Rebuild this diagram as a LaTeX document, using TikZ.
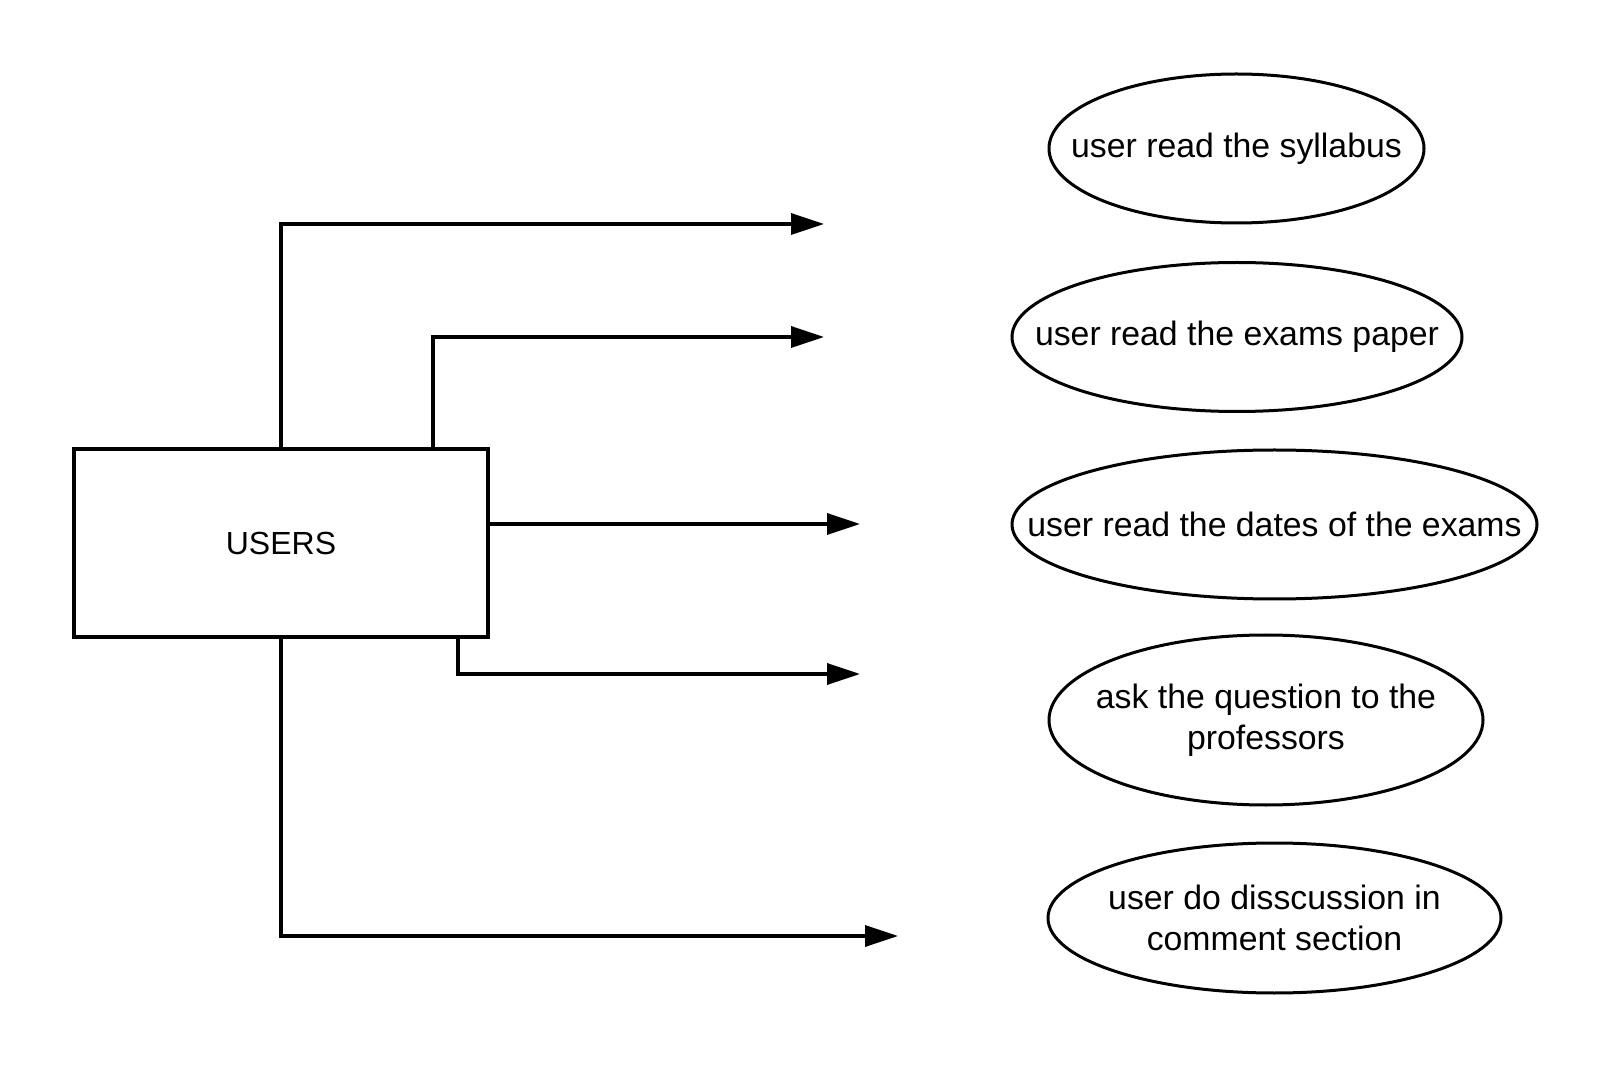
\documentclass[tikz,border=0pt]{standalone}
\usepackage{fontspec}
\setmainfont{Liberation Sans}
\usetikzlibrary{arrows.meta,calc,shapes.geometric}

\begin{document}
\begin{tikzpicture}[x=0.5pt, y=-0.5pt,
  >={Triangle[length=16.5pt, width=10.5pt]},
  flow/.style={->, line width=1.75pt},
  usecase/.style={draw, ellipse, line width=1.5pt, inner sep=0pt},
  uctext/.style={align=center, font=\fontsize{16.9}{20.5}\selectfont}]

  \useasboundingbox (0,0) rectangle (1613,1069);

  % Actor box
  \node[draw, line width=2pt, minimum width=207pt, minimum height=94pt,
        font=\fontsize{16}{19}\selectfont] (users) at (281,543) {USERS};

  % Use cases (ellipses with the text placed inside)
  \node[usecase, minimum width=187.5pt, minimum height=74.5pt,
        label={[uctext]center:user read the syllabus}] (syllabus) at (1236.5,148.5) {};
  \node[usecase, minimum width=225pt, minimum height=74.5pt,
        label={[uctext]center:user read the exams paper}] (paper) at (1237,337) {};
  \node[usecase, minimum width=262.5pt, minimum height=74.5pt,
        label={[uctext]center:user read the dates of the exams}] (dates) at (1274.5,524.5) {};
  \node[usecase, minimum width=217pt, minimum height=85pt,
        label={[uctext]center:{ask the question to the\\professors}}] (question) at (1266,720) {};
  \node[usecase, minimum width=226.5pt, minimum height=75pt,
        label={[uctext]center:{user do disscussion in\\comment section}}] (discussion) at (1274.5,918) {};

  % Free arrow ends
  \coordinate (a1) at (824,224);
  \coordinate (a2) at (824,337);
  \coordinate (a3) at (860,524);
  \coordinate (a4) at (860,674);
  \coordinate (a5) at (898,936);

  % Flows out of the box
  \draw[flow] (users.north) |- (a1);
  \draw[flow] ($(users.north east)+(-57,0)$) |- (a2);
  \draw[flow] (a3 -| users.east) -- (a3);
  \draw[flow] ($(users.south east)+(-32,0)$) |- (a4);
  \draw[flow] (users.south) |- (a5);

\end{tikzpicture}
\end{document}
